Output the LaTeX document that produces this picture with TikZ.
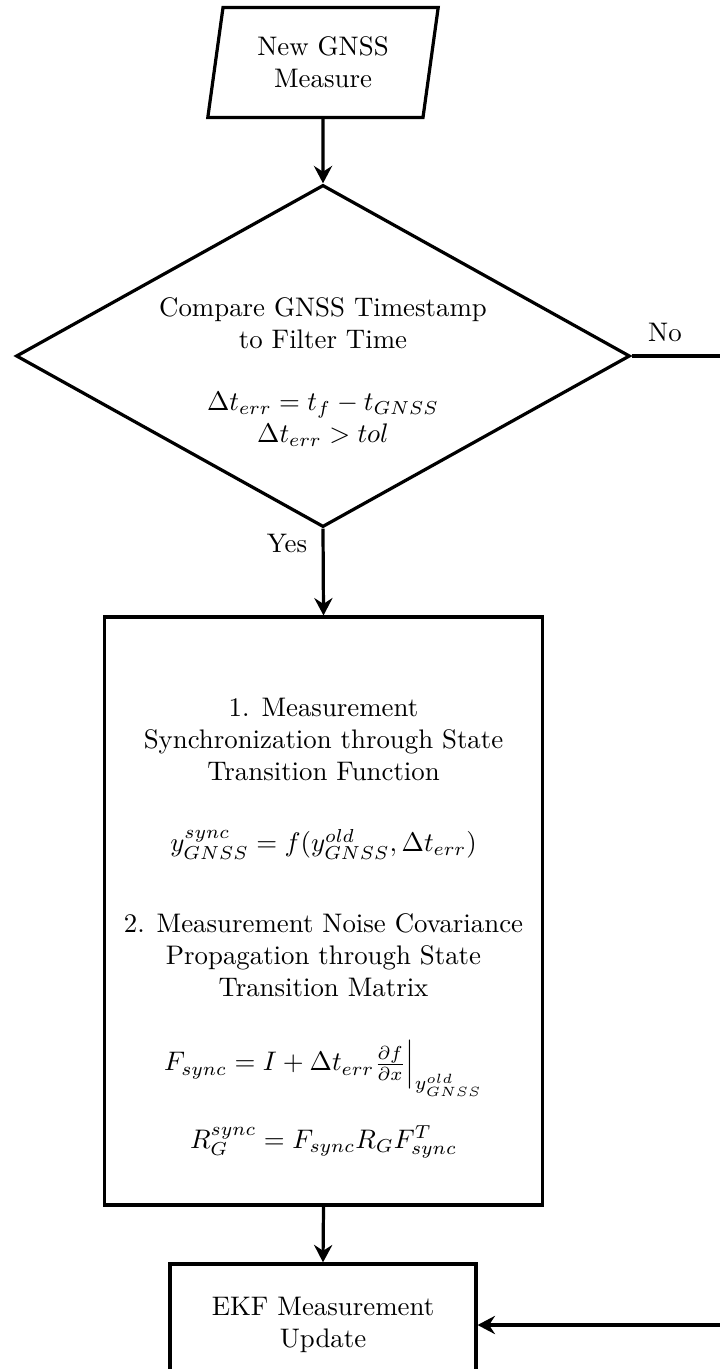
\documentclass[tikz,border=0pt]{standalone}
\usetikzlibrary{shapes.geometric,arrows.meta}
\begin{document}
\begin{tikzpicture}[x=0.3727pt,y=-0.3727pt,
  line/.style={line width=1.2pt},
  arr/.style={line width=1.2pt,-{Stealth[length=6.5pt,width=6.8pt,inset=2.2pt]}},
  boxnode/.style={draw,line width=1.2pt,rectangle,align=center,inner sep=0pt},
  txt/.style={align=center,inner sep=0pt}]
\useasboundingbox (0,0) rectangle (719,1369);
% input parallelogram
\node[draw,line width=1.2pt,trapezium,trapezium left angle=79,trapezium right angle=101,
  trapezium stretches=true,minimum width=86pt,minimum height=41pt,inner sep=0pt,align=center]
  (in) at (323,62.5) {New GNSS\\Measure};
% decision
\node[draw,line width=1.2pt,diamond,minimum width=228.8pt,minimum height=127.5pt,inner sep=0pt]
  (dec) at (323,356) {};
\node[txt] (dectext) at (323,372) {Compare GNSS Timestamp\\to Filter Time\\[11pt]
  $\Delta t_{err} = t_f - t_{GNSS}$\\$\Delta t_{err} > tol$};
% synchronization box
\node[boxnode,minimum width=163.2pt,minimum height=219.1pt] (sync) at (323.5,911) {};
\node[txt] (synctext) at (323.5,928) {1. Measurement\\Synchronization through State\\Transition Function\\[14.6pt]
  $y^{sync}_{GNSS} = f(y^{old}_{GNSS}, \Delta t_{err})$\\[18pt]
  2. Measurement Noise Covariance\\Propagation through State\\Transition Matrix\\[15.7pt]
  $F_{sync} = I + \Delta t_{err} \frac{\partial f}{\partial x}\Big|_{y^{old}_{GNSS}}$\\[9.7pt]
  $R^{sync}_{G} = F_{sync} R_G F^{T}_{sync}$};
% EKF update
\node[boxnode,minimum width=114pt,minimum height=45.5pt] (ekf) at (323,1325) {EKF Measurement\\Update};
% labels
\node[txt] (yes) at (287,543) {Yes};
\node[txt] (no) at (665,332) {No};
\coordinate (loop) at (780,356);
% connectors
\draw[arr] (in.south) -- (dec.north);
\draw[arr] (dec.south) -- (sync.north);
\draw[arr] (sync.south) -- (ekf.north);
\draw[arr] (dec.east) -- (loop) |- (ekf.east);
\end{tikzpicture}
\end{document}
